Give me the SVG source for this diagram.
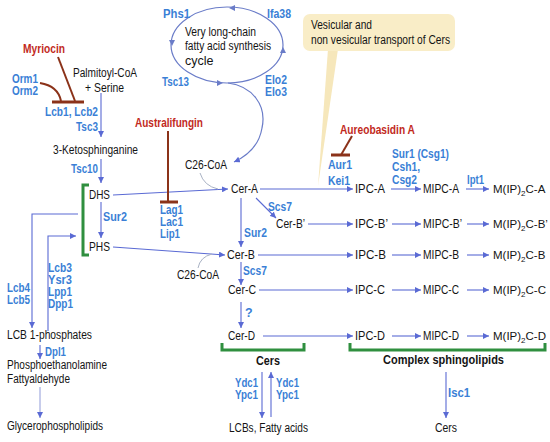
<svg xmlns="http://www.w3.org/2000/svg" width="550" height="442" viewBox="0 0 550 442">
<defs>
<style>
text{font-family:"Liberation Sans",Arial,sans-serif;font-size:12.5px;fill:#141414}
.b{font-weight:bold;fill:#3a7fd6}
.r{font-weight:bold;fill:#c22a1d}
.k{font-weight:bold;fill:#141414}
.m{font-size:11.5px}
.c{fill:none;stroke:#5a6ad4;stroke-width:1.1}
.f{fill:none;stroke:#a9b2c4;stroke-width:1}
.inh{fill:none;stroke:#8b3219;stroke-width:2}
.bar{fill:none;stroke:#8b3219;stroke-width:3}
.br{fill:none;stroke:#2f8f3f;stroke-width:3}
</style>
<marker id="ah" viewBox="0 0 6 6" markerWidth="6" markerHeight="6" refX="6" refY="3" orient="auto" markerUnits="userSpaceOnUse">
<path d="M0,0 L6,3 L0,6 z" fill="#5a6ad4"/>
</marker>
</defs>
<rect width="550" height="442" fill="#fff"/>

<g id="callout">
<polygon points="328,49 338,49 318,186" fill="#f6e7bb"/>
<rect x="303" y="14" width="152" height="37" rx="7" fill="#f9edc7"/>
<text x="311" y="29" textLength="61" lengthAdjust="spacingAndGlyphs">Vesicular and</text>
<text x="311" y="44" textLength="139" lengthAdjust="spacingAndGlyphs">non vesicular transport of Cers</text>
</g>

<g id="connectors">
<ellipse cx="227" cy="45" rx="56" ry="38" fill="none" stroke="#6a7cc8" stroke-width="1.2"/>
<polygon points="229,5 235,8 229,11" fill="#6a7cc8" transform="rotate(180 232 8)"/>
<polygon points="169,40 175,43 169,46" fill="#6a7cc8" transform="rotate(90 172 43)"/>
<polygon points="280,47 286,50 280,53" fill="#6a7cc8" transform="rotate(-90 283 50)"/>
<polygon points="217,80 223,83 217,86" fill="#6a7cc8"/>
<path d="M228,83 C252,86 267,105 262,128 C259,146 247,156 234,162" fill="none" stroke="#6a7cc8" stroke-width="1.2" marker-end="url(#ah)"/>
<path class="c" d="M101,93 V137" marker-end="url(#ah)"/>
<path class="c" d="M101,159 V183" marker-end="url(#ah)"/>
<path class="c" d="M101,202 V238" marker-end="url(#ah)"/>
<path class="c" d="M113,195 L228,189" marker-end="url(#ah)"/>
<path class="c" d="M113,247 L225,255" marker-end="url(#ah)"/>
<path class="f" d="M200,173 Q204,186 218,189"/>
<path class="f" d="M198,268 Q200,257 212,254"/>
<path class="c" d="M260,189 H353" marker-end="url(#ah)"/>
<path class="c" d="M256,198 L276,218" marker-end="url(#ah)"/>
<path class="c" d="M308,224 H353" marker-end="url(#ah)"/>
<path class="c" d="M241,198 V247" marker-end="url(#ah)"/>
<path class="c" d="M258,255 H353" marker-end="url(#ah)"/>
<path class="c" d="M241,262 V285" marker-end="url(#ah)"/>
<path class="c" d="M259,290 H353" marker-end="url(#ah)"/>
<path class="c" d="M241,302 V328" marker-end="url(#ah)"/>
<path class="c" d="M263,336 H353" marker-end="url(#ah)"/>
<path class="c" d="M391,189 H421" marker-end="url(#ah)"/>
<path class="c" d="M392,224 H421" marker-end="url(#ah)"/>
<path class="c" d="M392,255 H421" marker-end="url(#ah)"/>
<path class="c" d="M392,290 H421" marker-end="url(#ah)"/>
<path class="c" d="M392,336 H421" marker-end="url(#ah)"/>
<path class="c" d="M466,189 H489" marker-end="url(#ah)"/>
<path class="c" d="M467,224 H489" marker-end="url(#ah)"/>
<path class="c" d="M467,255 H489" marker-end="url(#ah)"/>
<path class="c" d="M467,290 H489" marker-end="url(#ah)"/>
<path class="c" d="M467,336 H489" marker-end="url(#ah)"/>
<path class="c" d="M78,214 H32 V328" marker-end="url(#ah)"/>
<path class="c" d="M48,331 V236 H76" marker-end="url(#ah)"/>
<path class="c" d="M40,345 V359" marker-end="url(#ah)"/>
<path d="M40,387 V418" fill="none" stroke="#8f9ad8" stroke-width="1" marker-end="url(#ah)"/>
<path class="c" d="M262,372 V418" marker-end="url(#ah)"/>
<path class="c" d="M271,417 V372" marker-end="url(#ah)"/>
<path class="c" d="M446,372 V418" marker-end="url(#ah)"/>
</g>

<g id="inhibitors">
<path class="inh" d="M58,57 L75,101"/>
<path class="bar" d="M68,102 H84"/>
<path class="inh" d="M40,83 Q58,86 61,101"/>
<path class="bar" d="M52,102 H68"/>
<path class="inh" d="M168,131 V202"/>
<path class="bar" d="M160,202 H178"/>
<path class="inh" d="M352,136 L341,155"/>
<path class="bar" d="M331,155 H350"/>
</g>

<g id="brackets">
<path class="br" d="M89,185 H83 V255 H89"/>
<path class="br" d="M222,343 V350 H304 V343"/>
<path class="br" d="M350,343 V350 H545 V343"/>
</g>

<g id="cycle">
<text x="185" y="36" textLength="71" lengthAdjust="spacingAndGlyphs">Very long-chain</text>
<text x="185" y="50" textLength="86" lengthAdjust="spacingAndGlyphs">fatty acid synthesis</text>
<text x="185" y="65">cycle</text>
<text class="b" x="163" y="18" textLength="27" lengthAdjust="spacingAndGlyphs">Phs1</text>
<text class="b" x="267" y="18" textLength="24" lengthAdjust="spacingAndGlyphs">Ifa38</text>
<text class="b" x="162" y="86" textLength="27" lengthAdjust="spacingAndGlyphs">Tsc13</text>
<text class="b" x="265" y="84" textLength="22" lengthAdjust="spacingAndGlyphs">Elo2</text>
<text class="b" x="265" y="96" textLength="22" lengthAdjust="spacingAndGlyphs">Elo3</text>
</g>

<g id="myriocin"><text class="r" x="23" y="53" textLength="42" lengthAdjust="spacingAndGlyphs">Myriocin</text></g>
<g id="orm"><text class="b" x="12" y="83" textLength="26" lengthAdjust="spacingAndGlyphs">Orm1</text>
<text class="b" x="12" y="95" textLength="26" lengthAdjust="spacingAndGlyphs">Orm2</text></g>
<g id="palmitoyl"><text x="73" y="77" textLength="64" lengthAdjust="spacingAndGlyphs">Palmitoyl-CoA</text>
<text x="85" y="92" textLength="39" lengthAdjust="spacingAndGlyphs">+ Serine</text></g>
<g id="lcb12"><text class="b" x="45" y="116" textLength="53" lengthAdjust="spacingAndGlyphs">Lcb1, Lcb2</text>
<text class="b" x="76" y="131" textLength="22" lengthAdjust="spacingAndGlyphs">Tsc3</text></g>
<g id="australifungin"><text class="r" x="135" y="127" textLength="68" lengthAdjust="spacingAndGlyphs">Australifungin</text></g>
<g id="keto"><text x="53" y="154" textLength="85" lengthAdjust="spacingAndGlyphs">3-Ketosphinganine</text>
<text class="b" x="71" y="173" textLength="27" lengthAdjust="spacingAndGlyphs">Tsc10</text></g>
<g id="dhs"><text x="89" y="199" textLength="21" lengthAdjust="spacingAndGlyphs">DHS</text></g>
<g id="sur2a"><text class="b" x="103" y="221" textLength="24" lengthAdjust="spacingAndGlyphs">Sur2</text></g>
<g id="phs"><text x="89" y="251" textLength="21" lengthAdjust="spacingAndGlyphs">PHS</text></g>
<g id="lag1"><text class="b" x="160" y="214" textLength="23" lengthAdjust="spacingAndGlyphs">Lag1</text>
<text class="b" x="160" y="226" textLength="23" lengthAdjust="spacingAndGlyphs">Lac1</text>
<text class="b" x="160" y="238" textLength="20" lengthAdjust="spacingAndGlyphs">Lip1</text></g>
<g id="c26a"><text x="185" y="169" textLength="42" lengthAdjust="spacingAndGlyphs">C26-CoA</text></g>
<g id="c26b"><text x="177" y="279" textLength="42" lengthAdjust="spacingAndGlyphs">C26-CoA</text></g>
<g id="cerA"><text x="231" y="193" textLength="27" lengthAdjust="spacingAndGlyphs">Cer-A</text></g>
<g id="scs7a"><text class="b" x="268" y="211" textLength="24" lengthAdjust="spacingAndGlyphs">Scs7</text></g>
<g id="cerB2"><text x="276" y="228" textLength="29" lengthAdjust="spacingAndGlyphs">Cer-B’</text></g>
<g id="sur2b"><text class="b" x="244" y="237" textLength="23" lengthAdjust="spacingAndGlyphs">Sur2</text></g>
<g id="cerB"><text x="227" y="259" textLength="28" lengthAdjust="spacingAndGlyphs">Cer-B</text></g>
<g id="scs7b"><text class="b" x="243" y="275" textLength="24" lengthAdjust="spacingAndGlyphs">Scs7</text></g>
<g id="cerC"><text x="228" y="294" textLength="28" lengthAdjust="spacingAndGlyphs">Cer-C</text></g>
<g id="q"><text class="b" x="245" y="317">?</text></g>
<g id="cerD"><text x="228" y="340" textLength="27" lengthAdjust="spacingAndGlyphs">Cer-D</text></g>
<g id="cers"><text class="k" x="256" y="365" textLength="24" lengthAdjust="spacingAndGlyphs">Cers</text></g>
<g id="ydc"><text class="b" x="235" y="387" textLength="23" lengthAdjust="spacingAndGlyphs">Ydc1</text>
<text class="b" x="235" y="399" textLength="23" lengthAdjust="spacingAndGlyphs">Ypc1</text>
<text class="b" x="276" y="387" textLength="23" lengthAdjust="spacingAndGlyphs">Ydc1</text>
<text class="b" x="276" y="399" textLength="23" lengthAdjust="spacingAndGlyphs">Ypc1</text></g>
<g id="lcbs"><text x="229" y="432" textLength="79" lengthAdjust="spacingAndGlyphs">LCBs, Fatty acids</text></g>
<g id="aureo"><text class="r" x="340" y="134" textLength="75" lengthAdjust="spacingAndGlyphs">Aureobasidin A</text>
<text class="b" x="328" y="169" textLength="24" lengthAdjust="spacingAndGlyphs">Aur1</text>
<text class="b" x="328" y="185" textLength="22" lengthAdjust="spacingAndGlyphs">Kei1</text></g>
<g id="sur1"><text class="b" x="392" y="158" textLength="57" lengthAdjust="spacingAndGlyphs">Sur1 (Csg1)</text>
<text class="b" x="392" y="171" textLength="28" lengthAdjust="spacingAndGlyphs">Csh1,</text>
<text class="b" x="392" y="184" textLength="25" lengthAdjust="spacingAndGlyphs">Csg2</text></g>
<g id="ipt1"><text class="b" x="467" y="184" textLength="17" lengthAdjust="spacingAndGlyphs">Ipt1</text></g>
<g id="ipcA"><text x="355" y="193" textLength="30" lengthAdjust="spacingAndGlyphs">IPC-A</text></g>
<g id="ipcB2"><text x="355" y="228" textLength="33" lengthAdjust="spacingAndGlyphs">IPC-B’</text></g>
<g id="ipcB"><text x="355" y="259" textLength="31" lengthAdjust="spacingAndGlyphs">IPC-B</text></g>
<g id="ipcC"><text x="355" y="294" textLength="30" lengthAdjust="spacingAndGlyphs">IPC-C</text></g>
<g id="ipcD"><text x="355" y="340" textLength="30" lengthAdjust="spacingAndGlyphs">IPC-D</text></g>
<g id="mipcA"><text x="423" y="193" textLength="36" lengthAdjust="spacingAndGlyphs">MIPC-A</text></g>
<g id="mipcB2"><text x="423" y="228" textLength="39" lengthAdjust="spacingAndGlyphs">MIPC-B’</text></g>
<g id="mipcB"><text x="423" y="259" textLength="36" lengthAdjust="spacingAndGlyphs">MIPC-B</text></g>
<g id="mipcC"><text x="423" y="294" textLength="36" lengthAdjust="spacingAndGlyphs">MIPC-C</text></g>
<g id="mipcD"><text x="423" y="340" textLength="36" lengthAdjust="spacingAndGlyphs">MIPC-D</text></g>
<g id="mip2cA"><text class="m" x="493" y="193">M(IP)<tspan font-size="8" dy="3">2</tspan><tspan dy="-3">C-A</tspan></text></g>
<g id="mip2cB2"><text class="m" x="493" y="228">M(IP)<tspan font-size="8" dy="3">2</tspan><tspan dy="-3">C-B’</tspan></text></g>
<g id="mip2cB"><text class="m" x="493" y="259">M(IP)<tspan font-size="8" dy="3">2</tspan><tspan dy="-3">C-B</tspan></text></g>
<g id="mip2cC"><text class="m" x="493" y="294">M(IP)<tspan font-size="8" dy="3">2</tspan><tspan dy="-3">C-C</tspan></text></g>
<g id="mip2cD"><text class="m" x="493" y="340">M(IP)<tspan font-size="8" dy="3">2</tspan><tspan dy="-3">C-D</tspan></text></g>
<g id="complex"><text class="k" x="383" y="364" textLength="121" lengthAdjust="spacingAndGlyphs">Complex sphingolipids</text>
<text class="b" x="448" y="397" textLength="22" lengthAdjust="spacingAndGlyphs">Isc1</text></g>
<g id="cers2"><text x="435" y="432" textLength="22" lengthAdjust="spacingAndGlyphs">Cers</text></g>
<g id="lcb45"><text class="b" x="7" y="292" textLength="23" lengthAdjust="spacingAndGlyphs">Lcb4</text>
<text class="b" x="7" y="304" textLength="23" lengthAdjust="spacingAndGlyphs">Lcb5</text></g>
<g id="lcb3"><text class="b" x="48" y="272" textLength="24" lengthAdjust="spacingAndGlyphs">Lcb3</text>
<text class="b" x="48" y="284" textLength="24" lengthAdjust="spacingAndGlyphs">Ysr3</text>
<text class="b" x="48" y="296" textLength="24" lengthAdjust="spacingAndGlyphs">Lpp1</text>
<text class="b" x="48" y="308" textLength="25" lengthAdjust="spacingAndGlyphs">Dpp1</text></g>
<g id="lcbp"><text x="7" y="339" textLength="85" lengthAdjust="spacingAndGlyphs">LCB 1-phosphates</text>
<text class="b" x="45" y="356" textLength="21" lengthAdjust="spacingAndGlyphs">Dpl1</text></g>
<g id="pe"><text x="7" y="369" textLength="100" lengthAdjust="spacingAndGlyphs">Phosphoethanolamine</text>
<text x="7" y="383" textLength="63" lengthAdjust="spacingAndGlyphs">Fattyaldehyde</text></g>
<g id="gpl"><text x="7" y="430" textLength="96" lengthAdjust="spacingAndGlyphs">Glycerophospholipids</text></g>
</svg>
